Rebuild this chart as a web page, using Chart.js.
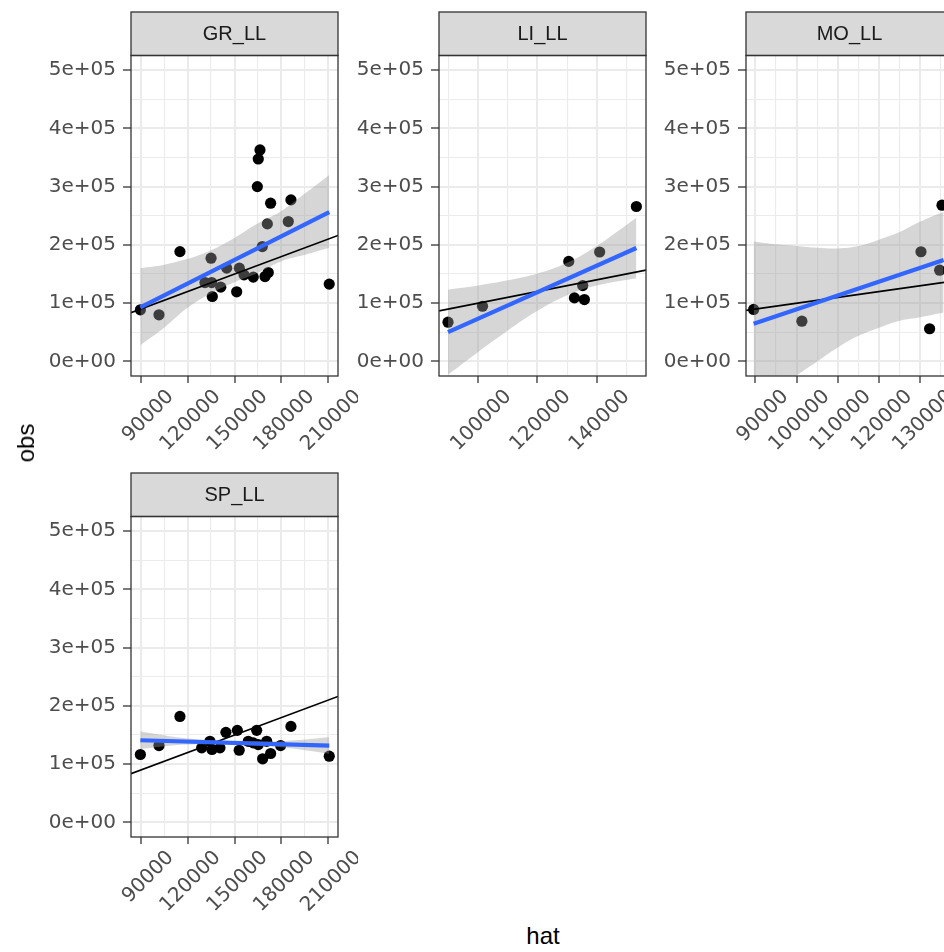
<!DOCTYPE html>
<html>
<head>
<meta charset="utf-8">
<script src="https://cdn.jsdelivr.net/npm/chart.js@4.4.1/dist/chart.umd.min.js"></script>
<style>
  html, body { margin: 0; padding: 0; width: 944px; height: 952px; overflow: hidden; background: #fff; }
  .panel { position: absolute; }
  .axis-title { position: absolute; font-family: 'Liberation Sans', Arial, sans-serif; font-size: 24px; color: #000; line-height: 1; }
</style>
</head>
<body>
<div class="panel" style="left:31px;top:0px"><canvas id="grChart" width="327" height="470"></canvas></div>
<div class="panel" style="left:339px;top:0px"><canvas id="liChart" width="327" height="470"></canvas></div>
<div class="panel" style="left:646px;top:0px"><canvas id="moChart" width="327" height="470"></canvas></div>
<div class="panel" style="left:31px;top:461px"><canvas id="spChart" width="327" height="470"></canvas></div>
<div class="axis-title" id="yTitle" style="left:26px;top:443px;transform:translate(-50%,-50%) rotate(-90deg)">obs</div>
<div class="axis-title" id="xTitle" style="left:543px;top:936px;transform:translate(-50%,-50%)">hat</div>
<script>
// shared y axis (obs)
const yTicks = [0, 100000, 200000, 300000, 400000, 500000];
const yTickLabels = ['0e+00', '1e+05', '2e+05', '3e+05', '4e+05', '5e+05'];
const yMinorTicks = [50000, 150000, 250000, 350000, 450000];
const yRange = [-25000, 525000];

// GR_LL
const grHat = [89800, 101700, 115100, 131100, 135000, 135400, 135800, 141200, 145000, 151400, 153100, 156100,
  162000, 164600, 165200, 166300, 167800, 169500, 171000, 171600, 173100, 184400, 186100, 210600];
const grObs = [88600, 80000, 188500, 135400, 177200, 135400, 111400, 127500, 160100, 119500, 160100, 148600,
  144700, 300000, 347400, 362900, 197100, 145700, 236000, 152600, 271500, 240000, 277200, 132700];
const grFitX = [89800, 210600];
const grFitY = [92900, 256100];
const grBandX = [89800, 105000, 120000, 135000, 150000, 165000, 180000, 195000, 210600];
const grBandHi = [160000, 166000, 176000, 191000, 212000, 237000, 258000, 288000, 320000];
const grBandLo = [28000, 58000, 92000, 117000, 136000, 152000, 172000, 183000, 195000];
const grXTicks = [90000, 120000, 150000, 180000, 210000];
const grXMinor = [105000, 135000, 165000, 195000];
const grXRange = [83800, 216200];

// LI_LL
const liHat = [89800, 101450, 130560, 132480, 135280, 135850, 141000, 153400];
const liObs = [67300, 94700, 171700, 109000, 130100, 106200, 187800, 265900];
const liFitX = [89800, 153400];
const liFitY = [50200, 194700];
const liBandX = [89800, 100000, 110000, 120000, 130000, 140000, 153400];
const liBandHi = [123200, 130400, 139100, 150800, 169500, 198300, 246700];
const liBandLo = [-22800, 16400, 53100, 86800, 113500, 130300, 142700];
const liXTicks = [100000, 120000, 140000];
const liXMinor = [90000, 110000, 130000, 150000];
const liXRange = [86750, 156650];

// MO_LL
const moHat = [89600, 101300, 130170, 132260, 134690, 135260];
const moObs = [89200, 69100, 188200, 56100, 156600, 268100];
const moFitX = [89600, 135650];
const moFitY = [64500, 174200];
const moBandX = [89600, 95000, 100000, 105000, 110000, 115000, 120000, 125000, 130000, 135650];
const moBandHi = [206000, 201000, 198000, 195000, 194000, 198000, 209000, 222000, 240000, 257000];
const moBandLo = [-78000, -50000, -24000, 0, 24000, 44000, 58000, 70000, 76000, 84000];
const moXTicks = [90000, 100000, 110000, 120000, 130000];
const moXMinor = [95000, 105000, 115000, 125000, 135000];
const moXRange = [87750, 137930];

// SP_LL
const spHat = [89800, 101700, 115100, 129000, 134300, 135600, 140700, 144500, 151800, 153000, 158800, 162000,
  164200, 165200, 168000, 170600, 173100, 179500, 186100, 210600];
const spObs = [116600, 131900, 181900, 128000, 139200, 125300, 128000, 154600, 158000, 123900, 139200, 136500,
  158000, 133600, 109200, 139200, 118300, 131900, 164800, 113700];
const spFitX = [89800, 210600];
const spFitY = [141000, 131900];
const spBandX = [89800, 120000, 150000, 180000, 210600];
const spBandHi = [156000, 144000, 140000, 139500, 146000];
const spBandLo = [126000, 133600, 133000, 128900, 117800];
const spXTicks = grXTicks;
const spXMinor = grXMinor;
const spXRange = grXRange;

const tickFont = { family: "'DejaVu Sans', sans-serif", size: 20 };
const gridColor = '#EBEBEB';
const frameColor = '#333333';

const zip = (xs, ys) => xs.map((x, i) => ({ x: x, y: ys[i] }));

// strip + panel border, drawn on top like ggplot does
const stripPlugin = {
  id: 'strip',
  afterDraw(chart, args, opts) {
    const { ctx, chartArea: a } = chart;
    const h = 43.5;
    ctx.save();
    ctx.fillStyle = '#D9D9D9';
    ctx.fillRect(a.left, a.top - h, a.right - a.left, h);
    ctx.strokeStyle = frameColor;
    ctx.lineWidth = 1.3;
    ctx.strokeRect(a.left, a.top - h, a.right - a.left, h);
    ctx.strokeRect(a.left, a.top, a.right - a.left, a.bottom - a.top);
    ctx.fillStyle = '#1A1A1A';
    ctx.font = "20px 'Liberation Sans', Arial, sans-serif";
    ctx.textAlign = 'center';
    ctx.textBaseline = 'middle';
    ctx.fillText(opts.label, (a.left + a.right) / 2, a.top - h / 2 + 1);
    ctx.restore();
  }
};

function makePanel(canvasId, label, p) {
  const xAll = p.xTicks.concat(p.xMinor).sort((a, b) => a - b);
  const yAll = yTicks.concat(yMinorTicks).sort((a, b) => a - b);
  const refLine = [p.xRange[0], p.xRange[1]];

  return new Chart(document.getElementById(canvasId), {
    type: 'scatter',
    data: {
      datasets: [
        {
          label: 'obs',
          data: zip(p.hat, p.obs),
          backgroundColor: '#000',
          borderWidth: 0,
          pointRadius: 5.6,
          order: 10
        },
        {
          label: 'band upper',
          type: 'line',
          data: zip(p.bandX, p.bandHi),
          borderWidth: 0,
          pointRadius: 0,
          tension: 0.4,
          backgroundColor: 'rgba(153, 153, 153, 0.4)',
          fill: '+1',
          order: 5
        },
        {
          label: 'band lower',
          type: 'line',
          data: zip(p.bandX, p.bandLo),
          borderWidth: 0,
          pointRadius: 0,
          tension: 0.4,
          fill: false,
          order: 6
        },
        {
          label: 'obs = hat',
          type: 'line',
          data: zip(refLine, refLine),
          borderColor: '#000',
          borderWidth: 1.7,
          pointRadius: 0,
          fill: false,
          order: 3
        },
        {
          label: 'lm fit',
          type: 'line',
          data: zip(p.fitX, p.fitY),
          borderColor: '#3366FF',
          borderWidth: 4.2,
          pointRadius: 0,
          fill: false,
          order: 1
        }
      ]
    },
    options: {
      responsive: false,
      animation: false,
      events: [],
      layout: { padding: { top: 55.5, left: 0, right: 20, bottom: 0 } },
      plugins: {
        legend: { display: false },
        tooltip: { enabled: false },
        strip: { label: label }
      },
      scales: {
        x: {
          type: 'linear',
          min: p.xRange[0],
          max: p.xRange[1],
          afterBuildTicks: axis => { axis.ticks = xAll.map(v => ({ value: v })); },
          afterFit: axis => { axis.height = 94; axis.paddingLeft = 0; axis.paddingRight = 0; },
          border: { display: false },
          grid: {
            color: gridColor,
            lineWidth: c => (c.tick && p.xTicks.includes(c.tick.value)) ? 2 : 1.1,
            tickColor: c => (c.tick && p.xTicks.includes(c.tick.value)) ? frameColor : 'rgba(0,0,0,0)',
            tickWidth: 1.3,
            tickLength: 7
          },
          ticks: {
            autoSkip: false,
            minRotation: 45,
            maxRotation: 45,
            padding: 2,
            labelOffset: 30,
            color: '#4D4D4D',
            font: tickFont,
            callback: v => p.xTicks.includes(v) ? String(v) : ''
          }
        },
        y: {
          type: 'linear',
          min: yRange[0],
          max: yRange[1],
          afterBuildTicks: axis => { axis.ticks = yAll.map(v => ({ value: v })); },
          afterFit: axis => { axis.width = 100; axis.paddingTop = 0; axis.paddingBottom = 0; },
          border: { display: false },
          grid: {
            color: gridColor,
            lineWidth: c => (c.tick && yTicks.includes(c.tick.value)) ? 2 : 1.1,
            tickColor: c => (c.tick && yTicks.includes(c.tick.value)) ? frameColor : 'rgba(0,0,0,0)',
            tickWidth: 1.3,
            tickLength: 8
          },
          ticks: {
            autoSkip: false,
            padding: 7,
            color: '#4D4D4D',
            font: tickFont,
            callback: v => {
              const i = yTicks.indexOf(v);
              return i >= 0 ? yTickLabels[i] : '';
            }
          }
        }
      }
    },
    plugins: [stripPlugin]
  });
}

makePanel('grChart', 'GR_LL', {
  hat: grHat, obs: grObs, fitX: grFitX, fitY: grFitY,
  bandX: grBandX, bandHi: grBandHi, bandLo: grBandLo,
  xTicks: grXTicks, xMinor: grXMinor, xRange: grXRange
});
makePanel('liChart', 'LI_LL', {
  hat: liHat, obs: liObs, fitX: liFitX, fitY: liFitY,
  bandX: liBandX, bandHi: liBandHi, bandLo: liBandLo,
  xTicks: liXTicks, xMinor: liXMinor, xRange: liXRange
});
makePanel('moChart', 'MO_LL', {
  hat: moHat, obs: moObs, fitX: moFitX, fitY: moFitY,
  bandX: moBandX, bandHi: moBandHi, bandLo: moBandLo,
  xTicks: moXTicks, xMinor: moXMinor, xRange: moXRange
});
makePanel('spChart', 'SP_LL', {
  hat: spHat, obs: spObs, fitX: spFitX, fitY: spFitY,
  bandX: spBandX, bandHi: spBandHi, bandLo: spBandLo,
  xTicks: spXTicks, xMinor: spXMinor, xRange: spXRange
});
</script>
</body>
</html>
